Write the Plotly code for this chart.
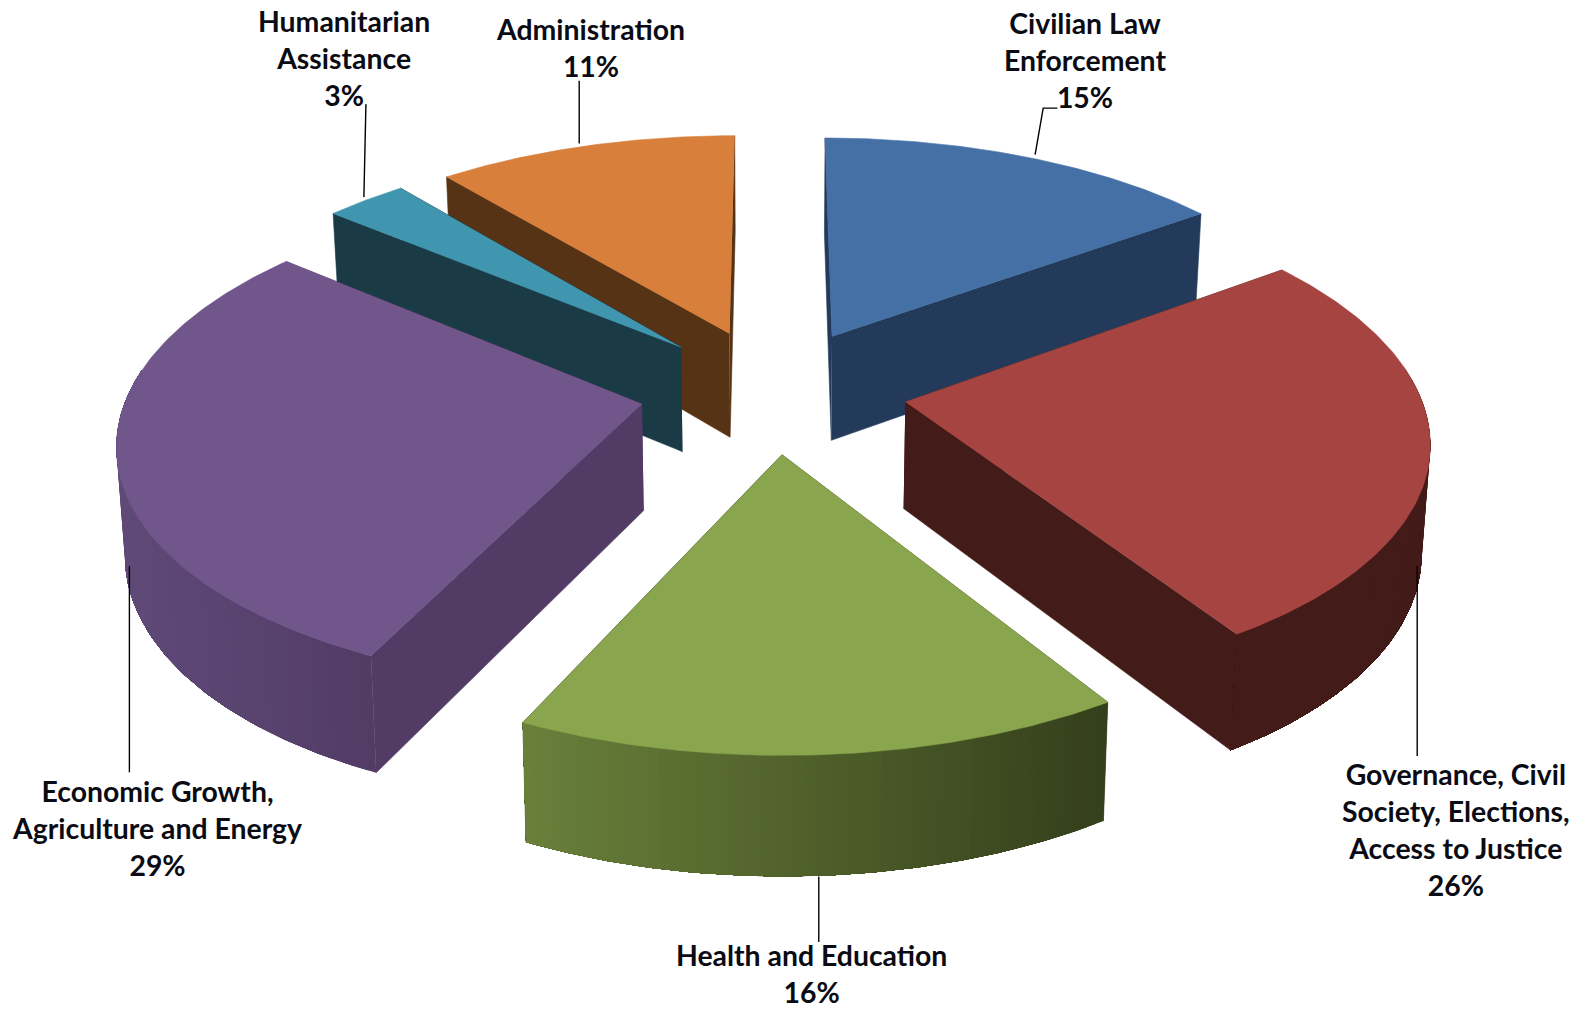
import numpy as np
import plotly.graph_objects as go

# ---- data ----
categories = ["Civilian Law Enforcement", "Governance, Civil Society, Elections, Access to Justice",
              "Health and Education", "Economic Growth, Agriculture and Energy",
              "Humanitarian Assistance", "Administration"]
values = [15, 26, 16, 29, 3, 11]
label_lines = [["Civilian Law", "Enforcement"],
               ["Governance, Civil", "Society, Elections,", "Access to Justice"],
               ["Health and Education"],
               ["Economic Growth,", "Agriculture and Energy"],
               ["Humanitarian", "Assistance"],
               ["Administration"]]

# ---- style ----
top_colors = ["#4570A6", "#A64442", "#89A54E", "#71568C", "#4096AE", "#D77F3B"]
cut_colors = ["#233A5A", "#431B18", "#3A4720", "#523C66", "#1A3A46", "#573316"]
wall_left = ["#233A5A", "#431B18", "#69803A", "#5F4A78", "#1A3A46", "#573316"]
wall_right = ["#233A5A", "#431B18", "#343F1B", "#523C66", "#1A3A46", "#573316"]
draw_order = [5, 4, 0, 3, 1, 2]

# projection constants, in a 1568-wide frame scaled to the page
K = 1585 / 1568
CX, CY, RX, RY, PERSP, EXPLODE = 765, 386, 508, 237, 0.138, 0.26


def project(X, Y, depth=0.0):
    s = 1 / (1 + PERSP * Y)
    x = CX + RX * X * s
    y = CY - RY * Y * s
    if depth:
        x = CX + (x - CX) * 0.987
        y = y + 105 + 70 * (s - 1)
    return x * K, y * K


def hex_rgb(h):
    return np.array([int(h[i:i + 2], 16) for i in (1, 3, 5)], float)


def mix(a, b, t):
    c = hex_rgb(a) * (1 - t) + hex_rgb(b) * t
    return "rgb(%d,%d,%d)" % tuple(c.round())


fig = go.Figure()


def poly(xs, ys, color, lw=0.6):
    fig.add_trace(go.Scatter(x=list(xs), y=list(ys), mode="lines", fill="toself",
                             fillcolor=color, line=dict(color=color, width=lw),
                             hoverinfo="skip", showlegend=False))


fractions = np.array(values, float) / sum(values)
edges = np.concatenate([[0], np.cumsum(fractions)]) * 2 * np.pi

for i in draw_order:
    a0, a1 = edges[i], edges[i + 1]
    mid = (a0 + a1) / 2
    ex, ey = EXPLODE * np.sin(mid), EXPLODE * np.cos(mid)
    th = np.linspace(a0, a1, 120)
    rim_X, rim_Y = ex + np.sin(th), ey + np.cos(th)

    # radial cut faces, the farther one first
    for a in sorted([a0, a1], key=lambda v: -np.cos(v)):
        PX, PY = ex + np.sin(a), ey + np.cos(a)
        p = [project(ex, ey), project(PX, PY), project(PX, PY, 1), project(ex, ey, 1)]
        poly([q[0] for q in p], [q[1] for q in p], cut_colors[i])

    # outer wall, shaded left to right: bands overlap so that no seams show
    front = np.where(np.cos(th) < 0.15)[0]
    if len(front) > 1:
        xt, _ = project(rim_X[front], rim_Y[front])
        xmin, xmax = xt.min(), xt.max()
        bands = 60
        idx = np.linspace(0, len(front) - 1, bands + 1).round().astype(int)
        for b0, b1 in zip(idx[:-1], idx[1:]):
            seg = front[b0:len(front)]  # from this band to the wall's end
            tx, ty = project(rim_X[seg], rim_Y[seg])
            bx, by = project(rim_X[seg], rim_Y[seg], 1)
            xm = (tx[0] + project(rim_X[front[b1]], rim_Y[front[b1]])[0]) / 2
            t = (xm - xmin) / max(xmax - xmin, 1)
            poly(np.r_[tx, bx[::-1]], np.r_[ty, by[::-1]],
                 mix(wall_left[i], wall_right[i], t), lw=0)

    # top face
    tx, ty = project(np.r_[ex, rim_X], np.r_[ey, rim_Y])
    poly(tx, ty, top_colors[i])

# ---- leader lines (frame coordinates) ----
leaders = [[(1046, 107), (1032, 107), (1024, 153)],
           [(1402, 560), (1402, 748)],
           [(810, 867), (810, 932)],
           [(128, 560), (128, 764)],
           [(362, 103), (360, 195)],
           [(573, 80), (573, 142)]]
for pts in leaders:
    fig.add_trace(go.Scatter(x=[p[0] * K for p in pts], y=[p[1] * K for p in pts], mode="lines",
                             line=dict(color="#000000", width=1.4),
                             hoverinfo="skip", showlegend=False))

# ---- labels ----
label_centers = [(1073, 59), (1440, 821), (803, 963), (155, 819), (340, 57), (584, 47)]
for name, val, (lx, ly) in zip(label_lines, values, label_centers):
    fig.add_annotation(x=lx * K, y=ly * K, text="<br>".join(name + [f"{val}%"]),
                       showarrow=False, align="center", xanchor="center", yanchor="middle",
                       font=dict(family="Lato", size=28.4, color="#0b0b14", weight="bold"))

fig.update_layout(width=1585, height=1009, margin=dict(l=0, r=0, t=0, b=0),
                  paper_bgcolor="white", plot_bgcolor="white", showlegend=False,
                  xaxis=dict(range=[0, 1585], visible=False, fixedrange=True),
                  yaxis=dict(range=[1009, 0], visible=False, fixedrange=True))
fig.write_html("out.html", post_script="document.body.style.margin='0';",
               config={"displayModeBar": False})
